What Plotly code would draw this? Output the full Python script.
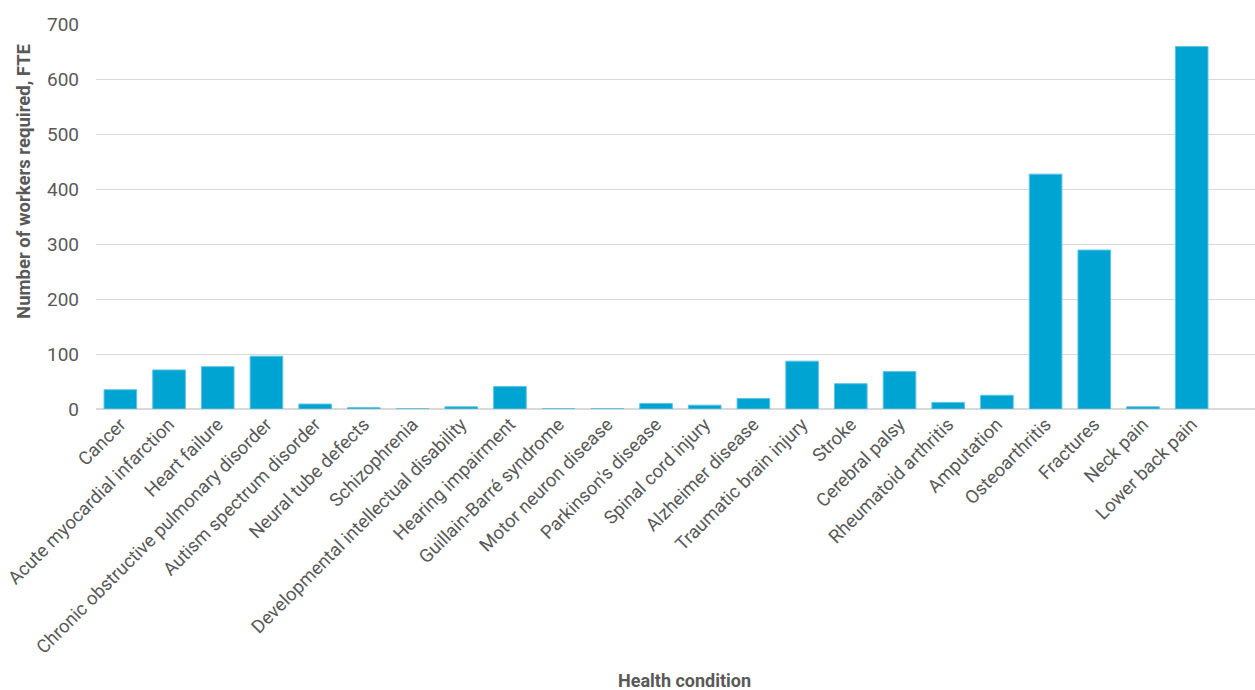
import plotly.graph_objects as go

conditions = [
    "Cancer", "Acute myocardial infarction", "Heart failure",
    "Chronic obstructive pulmonary disorder", "Autism spectrum disorder",
    "Neural tube defects", "Schizophrenia", "Developmental intellectual disability",
    "Hearing impairment", "Guillain-Barré syndrome", "Motor neuron disease",
    "Parkinson's disease", "Spinal cord injury", "Alzheimer disease",
    "Traumatic brain injury", "Stroke", "Cerebral palsy", "Rheumatoid arthritis",
    "Amputation", "Osteoarthritis", "Fractures", "Neck pain", "Lower back pain",
]
workers_fte = [35, 71, 77, 96, 9, 2.5, 0.3, 4, 41, 0.6, 0.6, 10, 7, 19,
               87, 46, 68, 12, 25, 427, 289, 4, 659]
y_ticks = [0, 100, 200, 300, 400, 500, 600, 700]

FONT = "Roboto, 'Open Sans', sans-serif"
GRAY = "#595959"

PLOT_L, PLOT_R, PLOT_T, PLOT_B = 96, 1255, 24, 409.3
PW, PH = PLOT_R - PLOT_L, PLOT_B - PLOT_T

fig = go.Figure(go.Bar(
    x=conditions, y=workers_fte,
    marker=dict(color="#00A4D3", line=dict(color="#5CC3E3", width=1)),
    hoverinfo="x+y",
))

fig.update_layout(
    width=1255, height=690,
    margin=dict(l=PLOT_L, r=1255 - PLOT_R, t=PLOT_T, b=690 - PLOT_B),
    plot_bgcolor="white", paper_bgcolor="white",
    bargap=0.33,
    showlegend=False,
    font=dict(family=FONT, size=18.5, color=GRAY),
    xaxis=dict(
        tickangle=-45, tickfont=dict(size=18.5, color=GRAY),
        range=[-0.5, 23.3], showgrid=False, showline=False,
        ticks="", ticklabelstandoff=0, automargin=False,
    ),
    yaxis=dict(
        range=[0, 700], tickvals=y_ticks, tickfont=dict(size=19, color=GRAY),
        showgrid=True, gridcolor="#D9D9D9", gridwidth=1,
        zeroline=True, zerolinecolor="#D9D9D9", zerolinewidth=2,
        showline=False, ticks="", ticklabelstandoff=16, automargin=False,
    ),
    annotations=[
        dict(text="<b>Number of workers required, FTE</b>", xref="paper", yref="paper",
             x=(24 - PLOT_L) / PW, y=(PLOT_B - 182) / PH, xanchor="center", yanchor="middle",
             textangle=-90, showarrow=False, font=dict(size=18.5, color=GRAY, family=FONT)),
        dict(text="<b>Health condition</b>", xref="paper", yref="paper",
             x=(684 - PLOT_L) / PW, y=-(681 - PLOT_B) / PH, xanchor="center", yanchor="middle",
             showarrow=False, font=dict(size=18, color=GRAY, family=FONT)),
    ],
)

fig.write_html("out.html")
